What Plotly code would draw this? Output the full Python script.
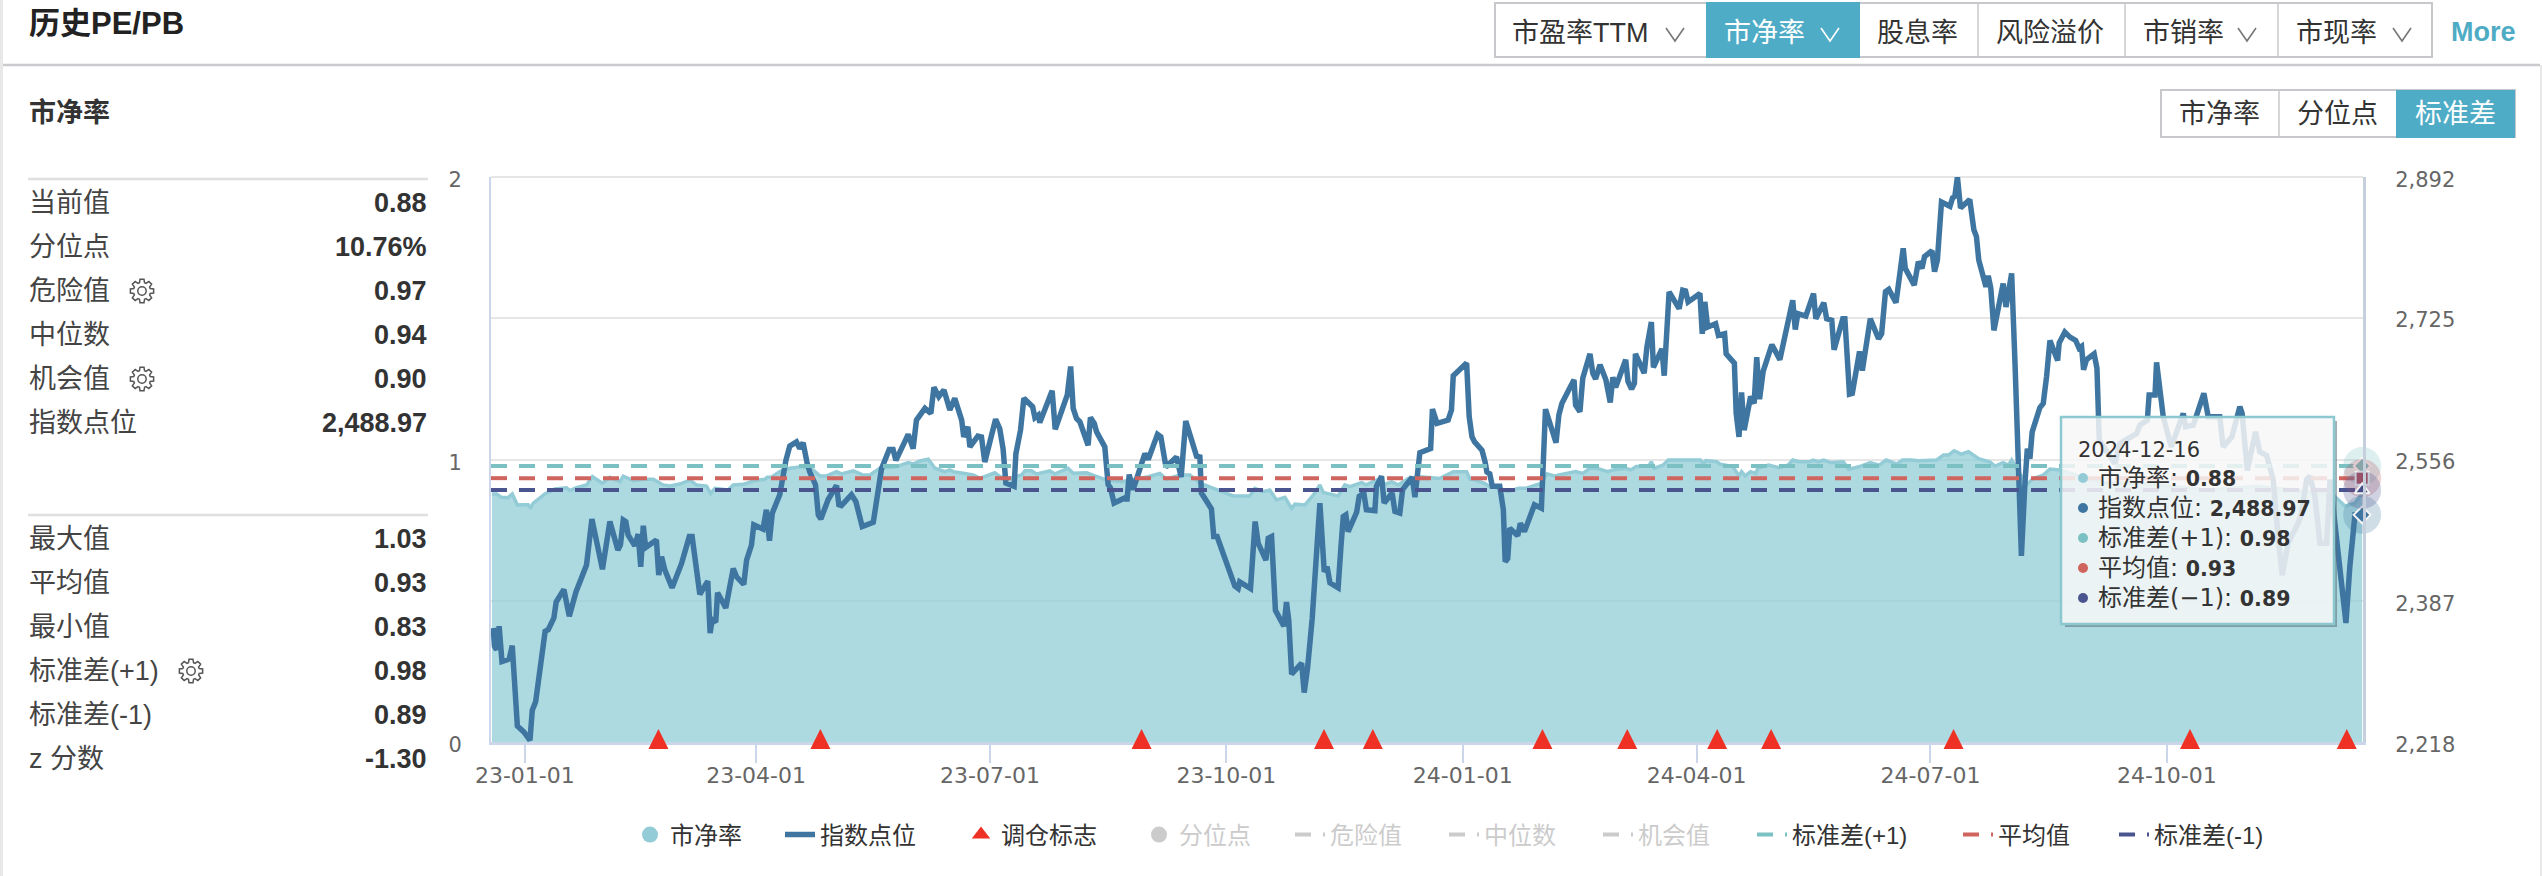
import math
import pandas as pd
import plotly.graph_objects as go

# ---------- data ----------
BASE_DATE = "2023-01-01"
index_day = [-12.3,-11.8,-11.0,-10.0,-8.9,-6.1,-4.9,-2.9,-0.4,2.0,2.9,4.2,7.9,9.1,11.3,12.2,15.2,17.3,19.9,24.0,26.1,28.1,30.2,33.1,36.2,37.2,38.3,39.3,40.2,42.8,44.1,45.1,46.1,47.0,51.2,52.1,53.2,54.5,57.3,61.0,64.0,65.1,66.5,68.1,71.2,72.1,72.9,74.3,75.0,78.2,81.1,82.4,85.2,86.3,88.2,89.1,92.7,94.0,95.2,96.3,99.2,100.3,101.6,103.1,105.7,107.0,108.3,109.9,110.9,113.1,114.2,115.2,118.0,121.3,122.2,123.2,127.1,128.8,131.3,135.6,137.5,138.8,141.8,143.3,144.4,149.2,151.1,152.4,155.7,158.0,159.2,161.1,163.1,165.4,167.3,170.0,170.8,172.4,173.2,176.3,
 177.7,179.0,183.2,184.8,186.1,187.2,190.4,191.1,192.9,194.2,197.6,198.5,199.8,200.4,205.2,206.4,211.1,212.4,213.4,214.7,216.0,219.2,220.1,221.6,222.5,225.7,227.0,227.9,229.3,234.1,234.3,235.2,236.7,241.3,242.6,246.2,247.5,249.5,253.6,255.4,257.2,260.7,261.4,262.7,263.3,267.2,268.1,269.4,276.3,277.6,278.2,282.4,284.2,285.4,288.4,289.3,290.6,292.1,295.4,296.4,297.3,298.4,302.3,303.3,304.6,306.4,308.1,309.4,311.1,312.2,313.3,316.5,317.6,318.5,319.5,320.4,323.7,324.7,326.5,327.5,330.8,331.4,333.4,334.4,337.5,338.6,340.5,341.6,345.3,346.4,348.3,352.5,353.2,355.0,359.3,360.6,361.3,366.5,
 367.5,368.6,369.6,372.5,373.7,374.4,375.5,376.5,379.4,380.8,381.5,382.5,383.3,386.4,387.4,389.0,392.9,395.6,397.2,401.3,402.4,403.6,408.3,408.9,410.6,411.7,414.5,415.6,416.7,418.4,420.7,422.4,423.4,424.5,428.4,429.3,430.7,431.8,432.2,435.6,436.7,438.4,439.2,442.5,443.4,445.3,449.2,450.6,451.7,452.7,457.3,458.2,459.2,460.3,463.4,464.5,466.9,467.5,470.7,471.4,472.5,473.5,474.5,477.0,478.4,479.4,480.5,481.9,485.3,488.4,493.4,494.4,495.4,498.5,501.5,502.4,505.5,506.6,508.6,509.5,512.9,513.7,515.5,516.6,519.4,520.5,523.6,526.8,528.0,529.5,530.8,533.6,536.4,537.2,540.7,542.3,543.7,544.7,547.6,548.6,549.7,
 551.3,554.6,555.6,556.5,557.5,558.7,562.3,563.9,564.9,565.8,568.6,569.5,570.5,571.7,575.3,576.4,578.6,580.0,581.3,582.4,583.7,584.7,585.7,586.6,589.6,590.9,592.2,593.5,596.5,597.1,599.3,601.3,603.5,604.8,605.8,606.6,607.7,610.7,611.8,612.7,
 614.9,618.8,620.7,627.2,628.5,631.4,632.1,634.4,635.0,637.6,640.7,645.4,646.3,649.3,653.4,655.1,659.6,660.9,664.3,667.4,668.3,670.3,673.5,675.2,677.8,680.4,682.4,683.9,686.2,690.1,691.4,693.4,694.7,696.6,698.6,701.2,702.5,703.8,706.4,708.7,710.2,712.2,715.0]
index_value = [2354,2332,2328,2356,2314,2317,2333,2237,2230,2220,2256,2266,2350,2352,2366,2385,2400,2368,2397,2429,2484,2457,2424,2481,2447,2453,2483,2481,2465,2452,2466,2427,2476,2450,2459,2417,2439,2423,2402,2431,2463,2463,2431,2394,2410,2348,2364,2361,2396,2378,2425,2415,2406,2435,2453,2477,2472,2495,2458,2491,2513,2533,2554,2571,2576,2568,2575,2550,2540,2525,2489,2484,2507,2524,2501,2500,2513,2505,2475,2480,2515,2544,2567,2567,2554,2585,2568,2602,2616,2610,2641,2630,2638,2614,2628,2602,2582,2594,2570,2583,
 2582,2552,2603,2592,2568,2527,2523,2562,2590,2628,2618,2605,2608,2599,2637,2591,2632,2666,2616,2604,2600,2572,2605,2598,2588,2570,2525,2521,2503,2510,2505,2537,2519,2562,2555,2585,2582,2546,2558,2534,2601,2568,2559,2558,2515,2496,2463,2463,2404,2401,2409,2401,2481,2455,2435,2461,2463,2375,2356,2385,2363,2299,2312,2277,2306,2365,2451,2503,2421,2427,2408,2402,2451,2487,2489,2469,2492,2511,2515,2495,2494,2523,2535,2503,2515,2493,2491,2519,2534,2510,2563,2568,2615,2598,2602,2614,2655,2670,
 2606,2582,2576,2566,2552,2540,2538,2523,2523,2495,2433,2437,2473,2464,2479,2469,2501,2497,2615,2575,2608,2622,2650,2620,2612,2652,2681,2658,2651,2668,2650,2623,2653,2641,2674,2648,2639,2646,2681,2658,2690,2719,2665,2687,2655,2755,2735,2757,2756,2743,2753,2705,2743,2713,2717,2703,2705,2681,2670,2610,2582,2635,2590,2630,2622,2677,2627,2660,2692,2674,2745,2710,2729,2726,2753,2723,2742,2723,2721,2686,2723,2723,2633,2634,2684,2661,2723,2699,2705,2755,2758,2742,2807,2783,2763,2791,2783,2797,2804,2779,2793,
 2862,2857,2867,2869,2892,2855,2865,2829,2821,2793,2761,2774,2759,2709,2765,2737,2777,2662,2542,2440,2523,2568,2556,2588,2617,2622,2654,2697,2673,2694,2707,2701,2697,2688,2690,2662,2674,2681,2664,2578,
 2568,2550,2574,2586,2596,2602,2632,2632,2671,2606,2570,2610,2594,2596,2634,2606,2606,2570,2582,2618,2610,2542,2588,2564,2560,2531,2459,2417,2455,2479,2491,2531,2535,2511,2455,2455,2531,2491,2423,2360,2427,2488.97,2488.97]

pb_day = [-12.8,-11,-9.1,-6.5,-4.9,-2.9,-0.6,1.3,2.2,3.2,7.8,11.7,16.2,17.5,20.1,24,26.3,30.2,33.1,37,38.3,42.2,46.1,50,53.8,56.4,60.3,64.2,66.8,70.7,72.3,74,79.1,81.1,85,88.9,93.4,94.3,96,99.2,103.1,108.3,112.2,114.8,117.4,121.3,123.2,127.8,131.7,134.3,138.2,144.6,149.2,151.1,153.7,157,159.6,163.5,165.4,166.7,170.6,174.5,
 177.1,182.9,184.9,188.1,193.3,194.6,197.2,199.1,204.3,206.3,211.4,213.4,218.6,226.4,232.2,238.7,242.6,247.1,249.7,254.9,258.8,262.7,267.9,275.7,282.1,284.1,287.3,289.9,292.5,295.8,298.4,299.7,303.6,306.8,309.4,310.7,315.2,316.5,319.1,321.1,325.6,327.5,331.4,334,337.3,339.9,343.8,348.3,356.1,361.3,366.5,367.8,
 370,373.5,375.5,379.4,382.5,386.7,389.4,393.6,395.7,397.8,400.6,408.9,411.7,414.5,417.2,421.4,423.5,428.4,430.4,432.5,437.4,438.4,439.5,442.9,445,457.5,458.7,459.6,463.8,465.2,470.1,472.5,473.5,474.9,477,479.1,479.8,484,488.1,491.6,493.4,495.8,499.9,501.3,503.4,505.5,508.3,513.1,515.2,519.4,523.6,527,529.8,534,536.1,539.5,542.3,549.3,552.1,554.1,556.2,559,561.8,565.9,570.1,
 572.1,575.3,577.3,578.6,580.5,584.4,587,590.9,593.5,597.6,605.2,615.5,628.5,641.5,654.5,673.9,688.2,703.8,708.3,712.2,715.0]
pb_value = [.878,.878,.866,.865,.878,.839,.840,.840,.827,.845,.878,.896,.900,.890,.900,.910,.939,.916,.937,.921,.941,.925,.930,.930,.910,.906,.913,.927,.910,.906,.880,.898,.892,.910,.912,.924,.930,.937,.937,.957,.969,.975,.963,.942,.942,.957,.949,.960,.945,.945,.969,.975,.989,.984,.995,1.001,.969,.957,.963,.957,.951,.945,
 .933,.953,.939,.933,.945,.960,.960,.949,.960,.949,.969,.951,.953,.927,.921,.933,.939,.951,.930,.945,.945,.916,.898,.871,.871,.898,.886,.892,.857,.866,.827,.842,.839,.874,.910,.883,.874,.871,.910,.904,.918,.910,.927,.910,.921,.910,.933,.939,.933,.957,.957,.930,
 .927,.916,.904,.898,.886,.898,.898,.912,.916,.949,.942,.957,.951,.969,.969,.957,.963,.969,.963,.975,.977,.992,.969,.980,.998,.998,.986,.996,.992,.983,.975,.942,.957,.942,.957,.951,.969,.980,.971,.980,.998,.992,.992,.998,.992,.998,.989,.992,.965,.975,.989,.980,.998,.984,.998,.998,.996,.998,1.016,1.016,1.031,1.019,1.028,1.002,.992,
 .977,.989,.980,.998,.969,.910,.933,.945,.966,.963,.939,.916,.916,.904,.892,.904,.892,.874,.835,.845,.88]

rebalance_dates = ["2023-02-22","2023-04-26","2023-08-29","2023-11-08","2023-11-27","2024-02-01","2024-03-05","2024-04-09","2024-04-30","2024-07-10","2024-10-10","2024-12-10"]
x_tick_dates = ["2023-01-01","2023-04-01","2023-07-01","2023-10-01","2024-01-01","2024-04-01","2024-07-01","2024-10-01"]
x_tick_labels = ["23-01-01","23-04-01","23-07-01","23-10-01","24-01-01","24-04-01","24-07-01","24-10-01"]
left_ticks = [0, 0.5, 1, 1.5, 2]
left_tick_labels = ["0", "", "1", "", "2"]
right_ticks = [2218, 2387, 2556, 2725, 2892]
right_tick_labels = ["2,218", "2,387", "2,556", "2,725", "2,892"]

plus_one_sd = 0.977
mean_value = 0.934
minus_one_sd = 0.892
danger_value = 0.97
median_value = 0.94
chance_value = 0.90
last_index = 2488.97
last_date = "2024-12-16"
first_date = "2022-12-18 20:00"
axis_end = "2024-12-16 08:00"

panel_top = [("当前值", "0.88"), ("分位点", "10.76%"), ("危险值", "0.97"), ("中位数", "0.94"), ("机会值", "0.90"), ("指数点位", "2,488.97")]
panel_bottom = [("最大值", "1.03"), ("平均值", "0.93"), ("最小值", "0.83"), ("标准差(+1)", "0.98"), ("标准差(-1)", "0.89"), ("z 分数", "-1.30")]
tooltip_rows = [("市净率", "0.88", "#93ccd6"), ("指数点位", "2,488.97", "#3f76a1"), ("标准差(+1)", "0.98", "#7bc0c2"), ("平均值", "0.93", "#d0655f"), ("标准差(−1)", "0.89", "#4a5590")]

# ---------- helpers ----------
W, H = 2542, 876
L, R, T, B = 491, 2363, 177, 742
SANS = "Liberation Sans, Noto Sans CJK SC"
AXISF = "DejaVu Sans, Noto Sans CJK SC"
def dates(days):
    return (pd.Timestamp(BASE_DATE) + pd.to_timedelta(days, unit="D")).strftime("%Y-%m-%d %H:%M").tolist()
def px(x): return (x - L) / (R - L)
def py(y): return (B - y) / (B - T)

shapes, notes = [], []
def text(x, y, s, size=27, color="#333", anchor="left", family=SANS):
    notes.append(dict(x=px(x), y=py(y), xref="paper", yref="paper", text=s, showarrow=False, xanchor=anchor,
                      yanchor="middle", borderpad=0, font=dict(size=size, color=color, family=family)))
def poly(pts, close=True, **kw):
    d = "M" + " L".join(f"{px(a):.5f},{py(b):.5f}" for a, b in pts) + (" Z" if close else "")
    shapes.append(dict(type="path", xref="paper", yref="paper", path=d, **kw))
def rect(x0, y0, x1, y1, fill="rgba(0,0,0,0)", line="rgba(0,0,0,0)", lw=0, layer="above"):
    shapes.append(dict(type="rect", xref="paper", yref="paper", x0=px(x0), x1=px(x1), y0=py(y0), y1=py(y1),
                       fillcolor=fill, line=dict(color=line, width=lw), layer=layer))
def hline(x0, x1, y, color, lw, layer="above"):
    shapes.append(dict(type="line", xref="paper", yref="paper", x0=px(x0), x1=px(x1), y0=py(y), y1=py(y), line=dict(color=color, width=lw), layer=layer))
def vline(x, y0, y1, color, lw):
    shapes.append(dict(type="line", xref="paper", yref="paper", x0=px(x), x1=px(x), y0=py(y0), y1=py(y1), line=dict(color=color, width=lw), layer="above"))
def chevron(cx, cy, color):
    poly([(cx-9, cy-6), (cx, cy+7), (cx+9, cy-6)], close=False, line=dict(color=color, width=1.6), layer="above")
def gear(cx, cy):
    pts = []
    for i in range(8):
        a = i * math.pi / 4
        for da, r in [(-0.30, 8.6), (-0.17, 11.8), (0.17, 11.8), (0.30, 8.6)]:
            pts.append((cx + r * math.sin(a + da), cy - r * math.cos(a + da)))
    poly(pts, line=dict(color="#555", width=1.5), layer="above")
    shapes.append(dict(type="circle", xref="paper", yref="paper", x0=px(cx-4.2), x1=px(cx+4.2), y0=py(cy+4.2), y1=py(cy-4.2),
                       line=dict(color="#555", width=1.5), layer="above"))

# ---------- page furniture ----------
rect(0, 0, 3, 876, fill="#e8e8e8")
rect(2540, 65, 2542, 876, fill="#e8e8e8")
hline(3, 2540, 65, "#c9c9ce", 2.5)
hline(L, R, T, "#e6e6e6", 2, layer="below")
text(28, 24, "<b>历史PE/PB</b>", size=31, color="#222")

# button row 1
ACTIVE = "#4facc6"
rect(1495, 3, 2432, 57, fill="#fff", line="#c8c8cc", lw=2)
for sx in (1978, 2125, 2278):
    vline(sx, 3, 57, "#c8c8cc", 1.5)
rect(1706, 2, 1860, 58, fill=ACTIVE)
for lab, x, col in [("市盈率TTM", 1511, "#333"), ("市净率", 1723, "#fff"), ("股息率", 1876, "#333"), ("风险溢价", 1995, "#333"), ("市销率", 2142, "#333"), ("市现率", 2295, "#333")]:
    text(x, 33, lab, size=27, color=col)
for cx, col in [(1675, "#777"), (1830, "#fff"), (2247, "#777"), (2402, "#777")]:
    chevron(cx, 34, col)
text(2450, 32, "<b>More</b>", size=27, color="#4eabc4")
# button row 2
rect(2161, 90, 2515, 137, fill="#fff", line="#c8c8cc", lw=2)
vline(2279, 90, 137, "#c8c8cc", 1.5)
rect(2396, 90, 2515, 138, fill=ACTIVE)
for lab, x, col in [("市净率", 2178, "#333"), ("分位点", 2296, "#333"), ("标准差", 2414, "#fff")]:
    text(x, 114, lab, size=27, color=col)

# side panel
text(28, 113, "<b>市净率</b>", size=27, color="#333")
hline(28, 428, 179, "#e0e0e0", 2.5)
hline(28, 428, 515, "#e0e0e0", 2.5)
for i, (lab, val) in enumerate(panel_top):
    text(28, 203 + 44 * i, lab, color="#444")
    text(428, 203 + 44 * i, f"<b>{val}</b>", size=27, color="#333", anchor="right")
for i, (lab, val) in enumerate(panel_bottom):
    text(28, 539 + 44 * i, lab, color="#444")
    text(428, 539 + 44 * i, f"<b>{val}</b>", size=27, color="#333", anchor="right")
gear(142, 291); gear(142, 379); gear(191, 671)

# ---------- chart ----------
fig = go.Figure()
RED = "#ee3124"
fig.add_trace(go.Scatter(x=dates(pb_day), y=pb_value, mode="lines", name="市净率", showlegend=False, yaxis="y",
                         fill="tozeroy", fillcolor="rgba(146,205,215,0.75)", line=dict(color="#93ccd6", width=3.5)))
fig.add_trace(go.Scatter(x=dates(index_day), y=index_value, mode="lines", name="指数点位", yaxis="y2",
                         line=dict(color="#3f76a1", width=5.5), legend="legend2"))
span = [first_date, axis_end]
for name, val, col, leg in [("标准差(+1)", plus_one_sd, "#7bc0c2", "legend9"), ("平均值", mean_value, "#d0655f", "legend10"), ("标准差(-1)", minus_one_sd, "#4a5590", "legend11")]:
    fig.add_trace(go.Scatter(x=span, y=[val, val], mode="lines", name=name, yaxis="y3", legend=leg,
                             line=dict(color=col, width=4, dash="16px,12px")))
# legend-only and legend-key series
fig.add_trace(go.Scatter(x=[None], y=[None], mode="markers", name="市净率", yaxis="y3", legend="legend",
                         marker=dict(color="#93ccd6", size=16)))
fig.add_trace(go.Scatter(x=[None], y=[None], mode="markers", name="调仓标志", yaxis="y3", legend="legend3",
                         marker=dict(color=RED, symbol="triangle-up", size=16)))
fig.add_trace(go.Scatter(x=[last_date], y=[0.1076], mode="markers", name="分位点", visible="legendonly", yaxis="y3", legend="legend4",
                         marker=dict(color="#999", size=16)))
for name, val, leg in [("危险值", danger_value, "legend5"), ("中位数", median_value, "legend6"), ("机会值", chance_value, "legend7")]:
    fig.add_trace(go.Scatter(x=span, y=[val, val], mode="lines", name=name, visible="legendonly", yaxis="y3", legend=leg,
                             line=dict(color="#999", width=4, dash="16px,12px")))
# rebalance marks
fig.add_trace(go.Scatter(x=rebalance_dates, y=[0.01] * len(rebalance_dates), mode="markers", name="调仓标志", showlegend=False,
                         yaxis="y3", cliponaxis=False, marker=dict(color=RED, symbol="triangle-up", size=10)))
for d in rebalance_dates:
    shapes.append(dict(type="path", xref="x", yref="paper", xsizemode="pixel", ysizemode="pixel", xanchor=d, yanchor=0,
                       path="M-10,-7 L10,-7 L0,13 Z", fillcolor=RED, line=dict(width=0), layer="above"))
# last-point highlight
for val, col, sym, sz, ax in [(plus_one_sd, "#7bc0c2", "diamond", 13, "y3"), (mean_value, "#b0505c", "square", 13, "y3"),
                              (minus_one_sd, "#474f8a", "triangle-up", 13, "y3"), (last_index, "#3f76a1", "diamond", 13, "y2")]:
    fig.add_trace(go.Scatter(x=[last_date], y=[val], mode="markers", showlegend=False, hoverinfo="skip", yaxis=ax, cliponaxis=False,
                             marker=dict(color=col, size=38, opacity=0.25, line=dict(width=0))))
    fig.add_trace(go.Scatter(x=[last_date], y=[val], mode="markers", showlegend=False, hoverinfo="skip", yaxis=ax, cliponaxis=False,
                             marker=dict(color=col, size=sz, symbol=sym, line=dict(color="#f4f4f4", width=2))))

# tooltip
poly([(2334, 421), (2337, 421), (2337, 627), (2065, 627), (2065, 624), (2334, 624)], fillcolor="rgba(90,110,120,0.55)", line=dict(width=0), layer="above")
rect(2061, 417, 2334, 624, fill="rgba(247,247,247,0.85)", line="#8cc8d0", lw=2.5)
text(2077, 450, last_date, size=21, color="#333", family=AXISF)
for i, (lab, val, col) in enumerate(tooltip_rows):
    y = 478 + 30 * i
    shapes.append(dict(type="circle", xref="paper", yref="paper", x0=px(2078), x1=px(2088), y0=py(y+5), y1=py(y-5),
                       fillcolor=col, line=dict(width=0), layer="above"))
    text(2097, y, f'{lab}: <span style="font-size:20.5px"><b>{val}</b></span>', size=24, color="#333", family=AXISF)

tick_font = dict(family=AXISF, size=21, color="#666")
layout = dict(
    width=W, height=H, margin=dict(l=L, r=W - R, t=T, b=H - B, autoexpand=False),
    paper_bgcolor="#fff", plot_bgcolor="#fff", shapes=shapes, annotations=notes, hovermode=False,
    xaxis=dict(type="date", range=[first_date, axis_end], tickvals=x_tick_dates, ticktext=x_tick_labels, ticks="outside", ticklen=18,
               tickwidth=2, tickcolor="#ccd6eb", showgrid=False, showline=True, linecolor="#ccd6eb", linewidth=3,
               tickfont=dict(family=AXISF, size=22, color="#666"), ticklabelstandoff=-6),
    yaxis=dict(range=[0, 2], tickvals=left_ticks, ticktext=left_tick_labels, showgrid=True, gridcolor="#e6e6e6", gridwidth=2,
               zeroline=False, showline=True, linecolor="#ccd6eb", linewidth=2, tickfont=tick_font, ticks="", ticklabelstandoff=23, ticklabelshift=3),
    yaxis2=dict(overlaying="y", side="right", range=[2218, 2892], tickvals=right_ticks, ticktext=right_tick_labels, showgrid=False,
                zeroline=False, showline=True, linecolor="#c5d0dc", linewidth=3, tickfont=tick_font, ticks="", ticklabelstandoff=25, ticklabelshift=3),
    yaxis3=dict(overlaying="y", range=[0, 2], visible=False),
)
# one legend box per series so each key sits where the original places it
legend_left = {"legend": 630, "legend2": 780, "legend3": 961, "legend4": 1139, "legend5": 1290, "legend6": 1444, "legend7": 1598,
               "legend9": 1752, "legend10": 1958, "legend11": 2114}
for key, x in legend_left.items():
    grey = key in ("legend4", "legend5", "legend6", "legend7")
    layout[key] = dict(x=px(x), y=py(835), xref="paper", yref="paper", xanchor="left", yanchor="middle", bgcolor="rgba(0,0,0,0)",
                       borderwidth=0, itemwidth=30, font=dict(family=SANS, size=24, color="#999" if grey else "#333"))
fig.update_layout(**layout)
fig.write_html("out.html", config={"displayModeBar": False}, post_script="document.body.style.margin='0';document.body.style.overflow='hidden';")
